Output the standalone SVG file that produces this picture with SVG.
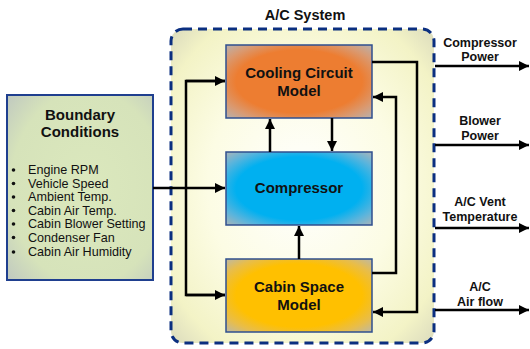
<svg xmlns="http://www.w3.org/2000/svg" width="530" height="349" viewBox="0 0 530 349">
<defs>
<radialGradient id="gSys" cx="0.5" cy="0.5" r="0.72">
<stop offset="0" stop-color="#ffffff"/>
<stop offset="0.5" stop-color="#fcfce4"/>
<stop offset="0.82" stop-color="#f3f3c6"/>
<stop offset="1" stop-color="#d8d8bc"/>
</radialGradient>
<radialGradient id="gCool" cx="0.5" cy="0.5" r="0.72">
<stop offset="0" stop-color="#ed7d31"/>
<stop offset="0.6" stop-color="#ed7d31"/>
<stop offset="0.8" stop-color="#d99a72"/>
<stop offset="1" stop-color="#b4b4b4"/>
</radialGradient>
<radialGradient id="gComp" cx="0.5" cy="0.5" r="0.72">
<stop offset="0" stop-color="#00b0f0"/>
<stop offset="0.6" stop-color="#00b0f0"/>
<stop offset="0.8" stop-color="#5ab4dc"/>
<stop offset="1" stop-color="#b4b4b4"/>
</radialGradient>
<radialGradient id="gCab" cx="0.5" cy="0.5" r="0.72">
<stop offset="0" stop-color="#ffc000"/>
<stop offset="0.6" stop-color="#ffc000"/>
<stop offset="0.8" stop-color="#e8bd4a"/>
<stop offset="1" stop-color="#b8b8b0"/>
</radialGradient>
<radialGradient id="gBnd" cx="0.55" cy="0.5" r="0.75">
<stop offset="0" stop-color="#dbe8bd"/>
<stop offset="0.7" stop-color="#d6e3ba"/>
<stop offset="1" stop-color="#bfc8c0"/>
</radialGradient>
<marker id="ah" viewBox="0 0 10 10" refX="10" refY="5" markerWidth="4" markerHeight="4" markerUnits="strokeWidth" orient="auto">
<path d="M0,0 L10,5 L0,10 z" fill="#000"/>
</marker>
<style>
.box{stroke:#2f4f8f;stroke-width:1.5}
.lbl{font-family:"Liberation Sans",Arial,sans-serif;font-weight:bold;fill:#111;text-anchor:middle}
.nl{font-size:15px}
.ol{font-size:12.5px}
.bl{font-family:"Liberation Sans",Arial,sans-serif;font-size:12.6px;fill:#111}
.c{fill:none;stroke:#000;stroke-width:2.5}
.ca{fill:none;stroke:#000;stroke-width:2.5;marker-end:url(#ah)}
</style>
</defs>

<g id="acsystem">
<rect x="171" y="29" width="263" height="314" rx="12" fill="url(#gSys)" stroke="#0b2f80" stroke-width="3" stroke-dasharray="9,6"/>
<text class="lbl" x="305" y="20" font-size="14.5">A/C System</text>
</g>

<g id="boundary">
<rect x="7" y="95" width="146" height="185" fill="url(#gBnd)" stroke="#1f3f8f" stroke-width="2"/>
<text class="lbl" x="80" y="120" font-size="15">Boundary</text>
<text class="lbl" x="80" y="137" font-size="15">Conditions</text>
<g class="bl">
<text x="28" y="174">Engine RPM</text>
<text x="28" y="187.5">Vehicle Speed</text>
<text x="28" y="201">Ambient Temp.</text>
<text x="28" y="214.5">Cabin Air Temp.</text>
<text x="28" y="228">Cabin Blower Setting</text>
<text x="28" y="241.5">Condenser Fan</text>
<text x="28" y="256">Cabin Air Humidity</text>
</g>
<g fill="#111">
<circle cx="13.5" cy="170" r="1.8"/>
<circle cx="13.5" cy="183.5" r="1.8"/>
<circle cx="13.5" cy="197" r="1.8"/>
<circle cx="13.5" cy="210.5" r="1.8"/>
<circle cx="13.5" cy="224" r="1.8"/>
<circle cx="13.5" cy="237.5" r="1.8"/>
<circle cx="13.5" cy="252" r="1.8"/>
</g>
</g>

<g id="cooling">
<rect class="box" x="226" y="45" width="146" height="73" fill="url(#gCool)"/>
<text class="lbl nl" x="299" y="78">Cooling Circuit</text>
<text class="lbl nl" x="299" y="96">Model</text>
</g>

<g id="compressor">
<rect class="box" x="226" y="152" width="146" height="73" fill="url(#gComp)"/>
<text class="lbl nl" x="299" y="193">Compressor</text>
</g>

<g id="cabin">
<rect class="box" x="226" y="259" width="146" height="73" fill="url(#gCab)"/>
<text class="lbl nl" x="299" y="292">Cabin Space</text>
<text class="lbl nl" x="299" y="310">Model</text>
</g>

<g id="outputs">
<text class="lbl ol" x="480" y="47">Compressor</text>
<text class="lbl ol" x="480" y="61">Power</text>
<text class="lbl ol" x="480" y="125">Blower</text>
<text class="lbl ol" x="480" y="140">Power</text>
<text class="lbl ol" x="480" y="206">A/C Vent</text>
<text class="lbl ol" x="480" y="221">Temperature</text>
<text class="lbl ol" x="480" y="291">A/C</text>
<text class="lbl ol" x="480" y="306">Air flow</text>
</g>

<g id="connectors">
<path class="ca" d="M153,188 H225"/>
<path class="c" d="M225,81 H186 V295 H225"/>
<path class="ca" d="M186,81 H225"/>
<path class="ca" d="M186,295 H225"/>
<path class="ca" d="M270,152 V119"/>
<path class="ca" d="M332,118 V151"/>
<path class="ca" d="M299,259 V226"/>
<path class="ca" d="M372,273 H396 V97 H373"/>
<path class="ca" d="M372,62 H417 V312 H373"/>
<path class="ca" d="M435,66 H529"/>
<path class="ca" d="M435,145 H529"/>
<path class="ca" d="M435,228 H529"/>
<path class="ca" d="M435,310 H529"/>
</g>
</svg>
